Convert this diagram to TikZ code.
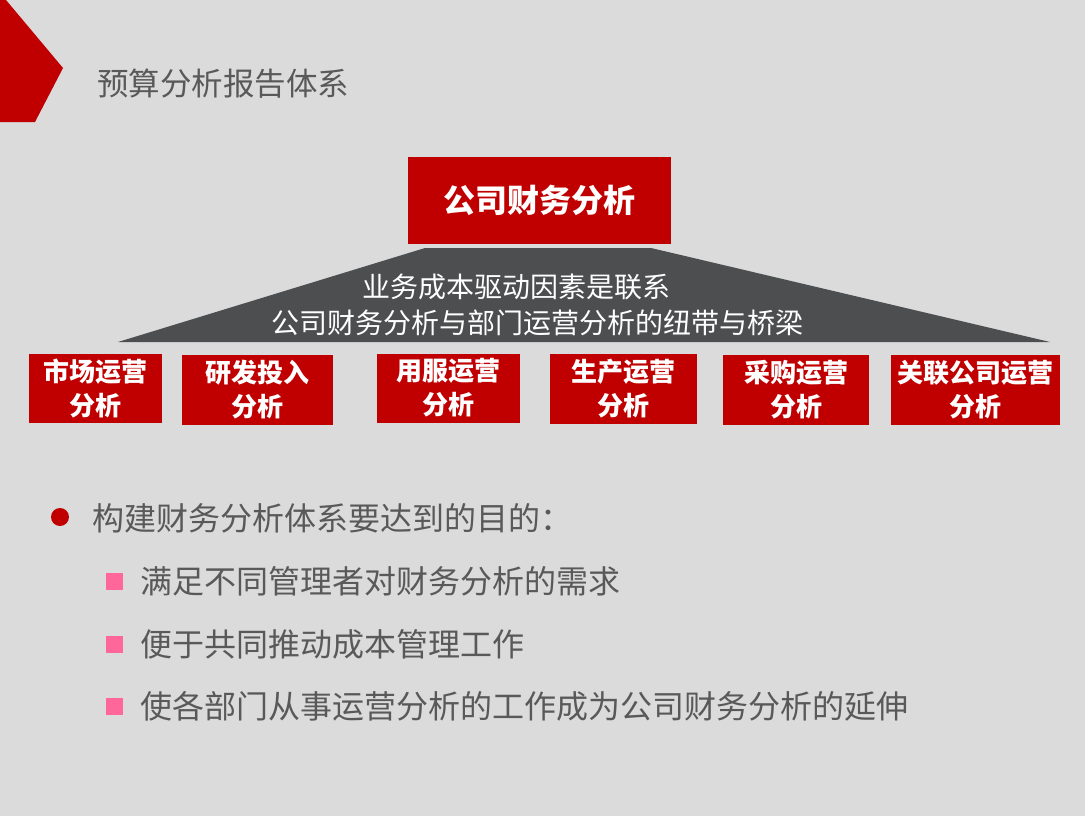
\documentclass[tikz,border=0pt]{standalone}
\usepackage{fontspec}
\newfontfamily\cjk{Noto Sans CJK SC}
\usepackage{xcolor}
\definecolor{slidebg}{RGB}{219,219,220}
\definecolor{deepred}{RGB}{192,0,0}
\definecolor{slate}{RGB}{77,78,80}
\definecolor{inkgrey}{RGB}{89,89,89}
\definecolor{rosepink}{RGB}{255,102,153}
\usetikzlibrary{positioning}

\begin{document}
\begin{tikzpicture}[x=1pt, y=-1pt, line join=round,
		subbox/.style={fill=deepred, text=white, align=center, inner sep=0pt,
			font=\cjk\bfseries\fontsize{26}{34}\selectfont},
		bodytext/.style={anchor=west, text=inkgrey, inner sep=0pt,
			font=\cjk\fontsize{32}{36}\selectfont}]
		\useasboundingbox (0,0) rectangle (1085,816);
		\fill[slidebg] (0,0) rectangle (1085,816);
		% corner mark and title
		\fill[deepred] (0,0) -- (6,0) -- (63,68) -- (35,122) -- (0,122) -- cycle;
		\node[text=inkgrey, inner sep=0pt, font=\cjk\fontsize{31.5}{34}\selectfont] (title) at (223,84) {预算分析报告体系};
		% top box and bridge
		\node[fill=deepred, text=white, inner sep=0pt, minimum width=263, minimum height=87,
			font=\cjk\bfseries\fontsize{32}{36}\selectfont] (corp) at (539.5,200.5) {公司财务分析};
		\fill[slate] (425,248) -- (651,248) -- (1050,342) -- (118,342) -- cycle;
		\node[text=white, inner sep=0pt, font=\cjk\fontsize{28}{32}\selectfont] (link1) at (516,287) {业务成本驱动因素是联系};
		\node[text=white, inner sep=0pt, font=\cjk\fontsize{28}{32}\selectfont] (link2) at (537,323) {公司财务分析与部门运营分析的纽带与桥梁};
		% department boxes
		\node[subbox, minimum width=133, minimum height=69] (mkt) at (95.5,388) {市场运营\\分析};
		\node[subbox, minimum width=151, minimum height=70] (rnd) at (257.5,390) {研发投入\\分析};
		\node[subbox, minimum width=143, minimum height=69] (svc) at (448.5,388) {用服运营\\分析};
		\node[subbox, minimum width=147, minimum height=70] (prod) at (623.5,389) {生产运营\\分析};
		\node[subbox, minimum width=146, minimum height=70] (buy) at (796,390) {采购运营\\分析};
		\node[subbox, minimum width=169, minimum height=70] (rel) at (975,390) {关联公司运营\\分析};
		% goals
		\fill[deepred] (60,517) circle (9);
		\node[bodytext] (goal) at (92,518) {构建财务分析体系要达到的目的：};
		\foreach \y/\txt [count=\i] in {581/满足不同管理者对财务分析的需求,
				644/便于共同推动成本管理工作,
				706/使各部门从事运营分析的工作成为公司财务分析的延伸} {
			\fill[rosepink] (106,\y-8) rectangle (123,\y+9);
			\node[bodytext] (aim\i) at (140,\y) {\txt};
		}
	\end{tikzpicture}
\end{document}
